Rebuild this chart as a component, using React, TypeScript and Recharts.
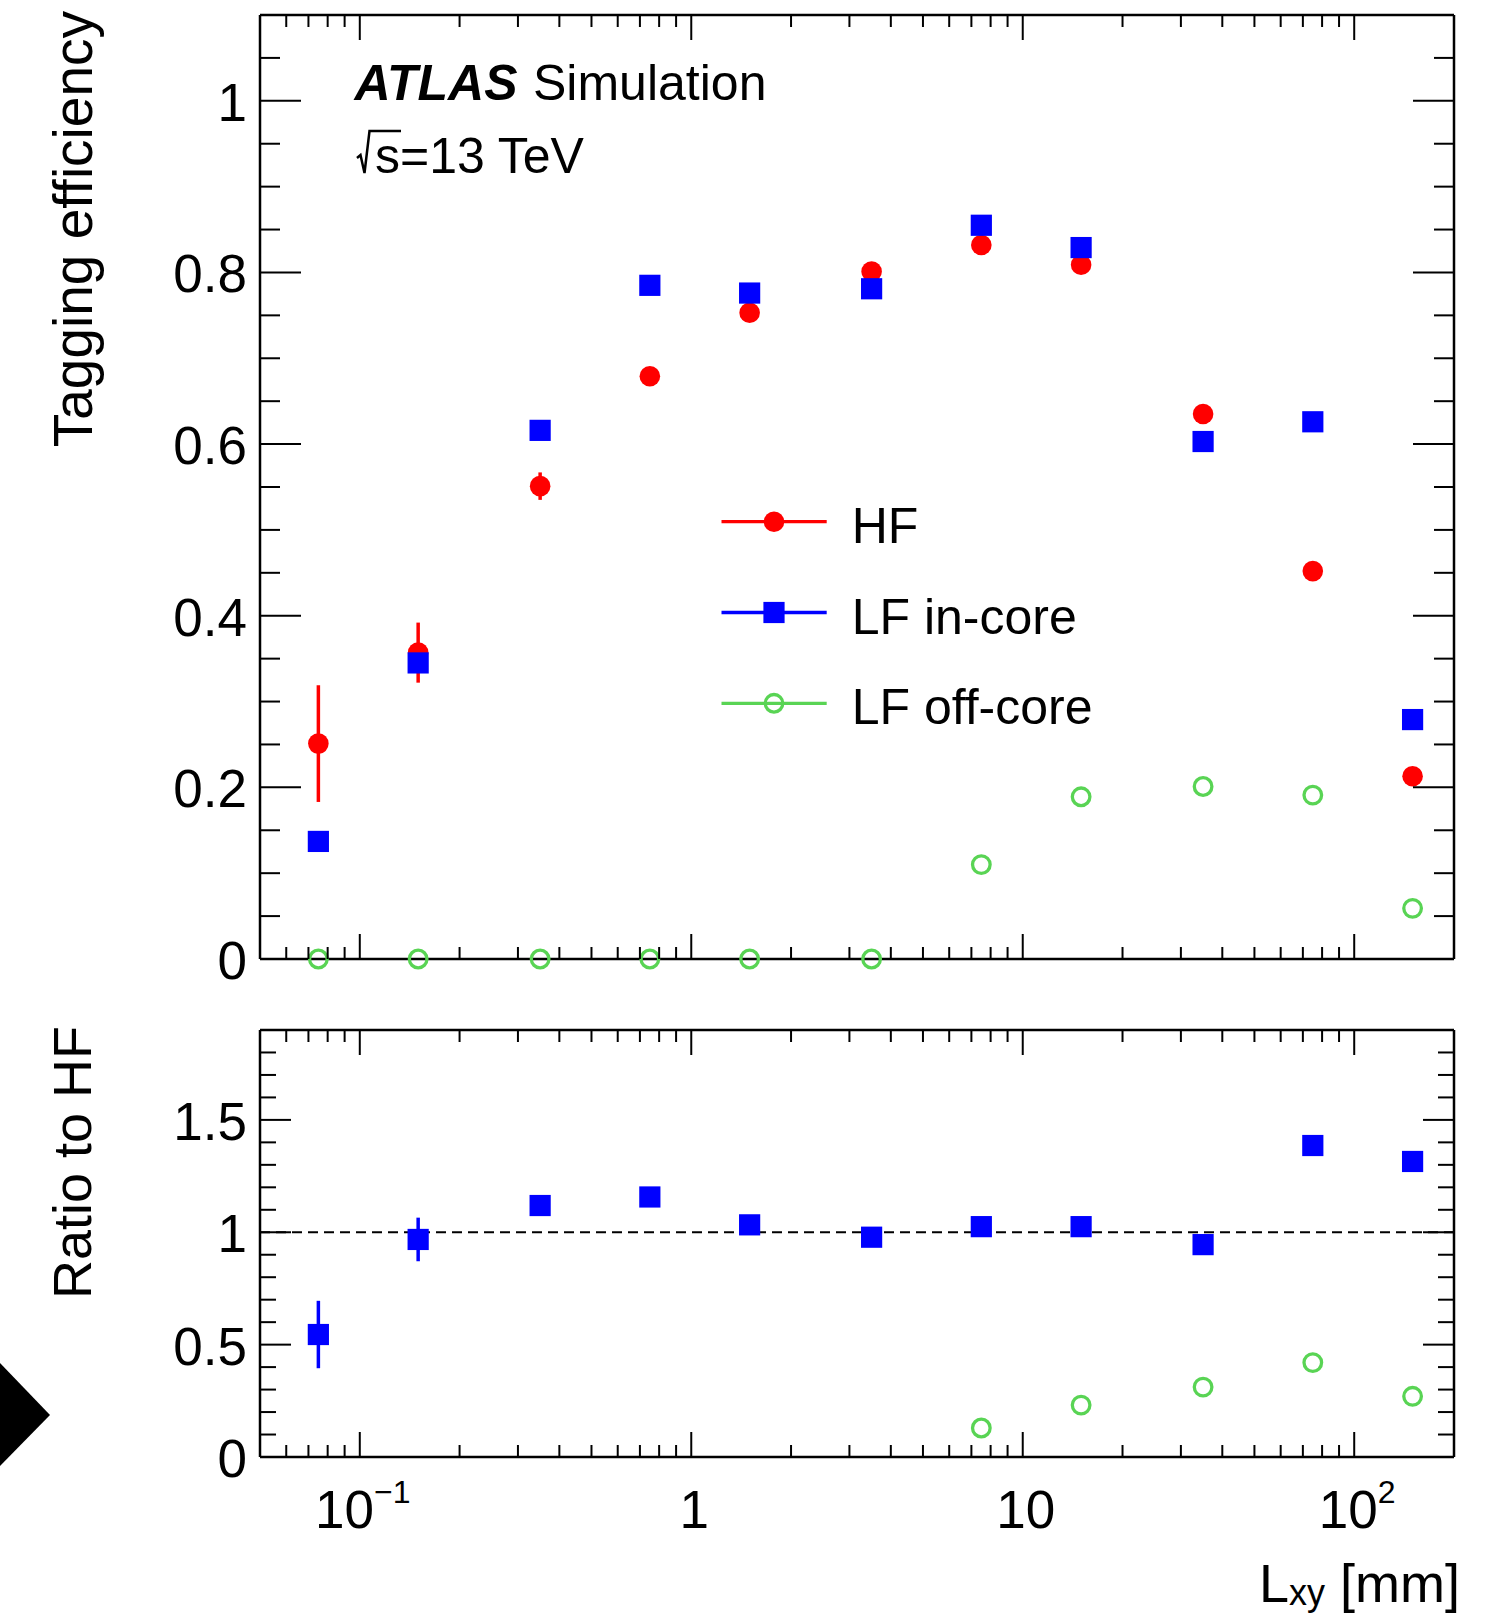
import { ScatterChart, Scatter, XAxis, YAxis, ErrorBar, ReferenceLine, Legend } from 'recharts'

const FONT = '"Liberation Sans", Arial, Helvetica, sans-serif'
const RED = '#ff0000'
const BLUE = '#0000ff'
const GREEN = '#59d454'

// bin centres in L_xy [mm]
const LXY = [0.075, 0.15, 0.35, 0.75, 1.5, 3.5, 7.5, 15, 35, 75, 150]

// top panel: tagging efficiency
const HF_EFF = [0.251, 0.357, 0.551, 0.679, 0.753, 0.801, 0.832, 0.809, 0.635, 0.452, 0.213]
const HF_ERR = [0.068, 0.035, 0.016, 0, 0, 0, 0, 0, 0, 0, 0]
const LF_IN_EFF = [0.137, 0.345, 0.616, 0.785, 0.776, 0.781, 0.855, 0.829, 0.603, 0.626, 0.279]
const LF_OFF_EFF = [0, 0, 0, 0, 0, 0, 0.11, 0.189, 0.201, 0.191, 0.059]

// bottom panel: ratio to HF
const LF_IN_RATIO = [0.545, 0.968, 1.119, 1.157, 1.033, 0.978, 1.025, 1.025, 0.945, 1.386, 1.315]
const LF_IN_RATIO_ERR = [0.15, 0.097, 0, 0, 0, 0, 0, 0, 0, 0, 0]
const LF_OFF_RATIO = [null, null, null, null, null, null, 0.129, 0.231, 0.311, 0.42, 0.27]

// axis ticks
const X_DECADES = [0.1, 1, 10, 100]
const X_DECADE_LABELS = ['10', '1', '10', '10']
const X_DECADE_EXPONENTS = ['\u22121', '', '', '2']
const X_TICKS = [0.01, 0.1, 1, 10, 100]
  .flatMap((d) => [1, 2, 3, 4, 5, 6, 7, 8, 9].map((m) => m * d))
  .filter((v) => v > 0.0501 && v < 199)

const EFF_MAJOR = [0, 0.2, 0.4, 0.6, 0.8, 1]
const EFF_LABELS = ['0', '0.2', '0.4', '0.6', '0.8', '1']
const EFF_TICKS = Array.from({ length: 22 }, (_, i) => +(i * 0.05).toFixed(2))

const RATIO_MAJOR = [0, 0.5, 1, 1.5]
const RATIO_LABELS = ['0', '0.5', '1', '1.5']
const RATIO_TICKS = Array.from({ length: 19 }, (_, i) => +(i * 0.1).toFixed(1))

const SERIES = [
  { name: 'HF', color: RED, marker: 'circle' },
  { name: 'LF in-core', color: BLUE, marker: 'square' },
  { name: 'LF off-core', color: GREEN, marker: 'open' },
]

const hfData = LXY.map((x, i) => ({ x, y: HF_EFF[i], err: HF_ERR[i] }))
const lfInData = LXY.map((x, i) => ({ x, y: LF_IN_EFF[i] }))
const lfOffData = LXY.map((x, i) => ({ x, y: LF_OFF_EFF[i] }))
const lfInRatioData = LXY.map((x, i) => ({ x, y: LF_IN_RATIO[i], err: LF_IN_RATIO_ERR[i] }))
const lfOffRatioData = LXY.map((x, i) => ({ x, y: LF_OFF_RATIO[i] })).filter((d) => d.y !== null)

const AXIS_LINE = { stroke: '#000', strokeWidth: 2.5 }

function Marker({ kind, cx, cy, color }: { kind: string; cx: number; cy: number; color: string }) {
  if (kind === 'circle') return <circle cx={cx} cy={cy} r={10.3} fill={color} />
  if (kind === 'square') return <rect x={cx - 10.6} y={cy - 10.6} width={21.2} height={21.2} fill={color} />
  return <circle cx={cx} cy={cy} r={8.8} fill="none" stroke={color} strokeWidth={3.3} />
}

function XTick(props: any) {
  const { x, y, payload, dir, len, withLabel } = props
  const v = payload.value
  const k = X_DECADES.findIndex((d) => Math.abs(v / d - 1) < 1e-6)
  const l = k >= 0 ? len[0] : len[1]
  return (
    <g>
      <line x1={x} x2={x} y1={y} y2={y + dir * l} stroke="#000" strokeWidth={2} />
      {withLabel && k >= 0 && (
        <text x={x + 3} y={y + 71} textAnchor="middle" fontFamily={FONT} fontSize={53} fill="#000">
          {X_DECADE_LABELS[k]}
          {X_DECADE_EXPONENTS[k] && (
            <tspan dy={-25} fontSize={32}>
              {X_DECADE_EXPONENTS[k]}
            </tspan>
          )}
        </text>
      )}
    </g>
  )
}

function YTick(props: any) {
  const { x, y, payload, dir, len, majors, labels } = props
  const v = payload.value
  const k = majors.findIndex((m: number) => Math.abs(v - m) < 1e-6)
  const l = k >= 0 ? len[0] : len[1]
  return (
    <g>
      <line x1={x} x2={x + dir * l} y1={y} y2={y} stroke="#000" strokeWidth={2} />
      {labels && k >= 0 && (
        <text x={x - 13} y={y + 20} textAnchor="end" fontFamily={FONT} fontSize={53} fill="#000">
          {labels[k]}
        </text>
      )}
    </g>
  )
}

function YTitle({ viewBox, text, x, size }: any) {
  const ty = (viewBox?.y ?? 0) - 4
  return (
    <text x={x} y={ty} transform={`rotate(-90 ${x} ${ty})`} textAnchor="end" fontFamily={FONT} fontSize={size} fill="#000">
      {text}
    </text>
  )
}

function XTitle({ viewBox }: any) {
  const tx = viewBox.x + viewBox.width + 6
  const ty = viewBox.y + 145
  return (
    <text x={tx} y={ty} textAnchor="end" fontFamily={FONT} fontSize={54} fill="#000">
      L
      <tspan fontSize={36} dy={3}>
        xy
      </tspan>
      <tspan dy={-3}> [mm]</tspan>
    </text>
  )
}

function LegendContent() {
  return (
    <svg width={470} height={270} style={{ display: 'block' }}>
      {SERIES.map((s, i) => {
        const cy = 51.7 + i * 90.8
        return (
          <g key={s.name}>
            <line x1={21.5} x2={126.7} y1={cy} y2={cy} stroke={s.color} strokeWidth={3.3} />
            <Marker kind={s.marker} cx={74} cy={cy} color={s.color} />
            <text x={151.7} y={cy + 21} fontFamily={FONT} fontSize={50} fill="#000">
              {s.name}
            </text>
          </g>
        )
      })}
    </svg>
  )
}

const xAxisCommon = {
  type: 'number' as const,
  dataKey: 'x',
  scale: 'log' as const,
  domain: [0.05, 200],
  ticks: X_TICKS,
  interval: 0,
  tickSize: 0,
  tickMargin: 0,
  tickLine: false,
  axisLine: AXIS_LINE,
}

function EfficiencyPanel() {
  return (
    <ScatterChart width={1507} height={1000} margin={{ top: 0, right: 0, bottom: 0, left: 0 }}>
      <XAxis {...xAxisCommon} height={41} tick={(p: any) => <XTick {...p} dir={-1} len={[25, 12]} />} />
      <XAxis {...xAxisCommon} xAxisId="top" orientation="top" allowDataOverflow height={15} tick={(p: any) => <XTick {...p} dir={1} len={[25, 12]} />} />
      <YAxis
        type="number"
        dataKey="y"
        domain={[0, 1.1]}
        ticks={EFF_TICKS}
        interval={0}
        width={260}
        tickSize={0}
        tickMargin={0}
        tickLine={false}
        axisLine={AXIS_LINE}
        tick={(p: any) => <YTick {...p} dir={1} len={[41, 20]} majors={EFF_MAJOR} labels={EFF_LABELS} />}
        label={(p: any) => <YTitle {...p} x={92} size={55} text="Tagging efficiency" />}
      />
      <YAxis
        yAxisId="right"
        orientation="right"
        type="number"
        domain={[0, 1.1]}
        allowDataOverflow
        ticks={EFF_TICKS}
        interval={0}
        width={53}
        tickSize={0}
        tickMargin={0}
        tickLine={false}
        axisLine={AXIS_LINE}
        tick={(p: any) => <YTick {...p} dir={-1} len={[41, 20]} majors={EFF_MAJOR} />}
      />
      <Scatter name="HF" data={hfData} fill={RED} isAnimationActive={false} shape={(p: any) => <Marker kind="circle" cx={p.cx} cy={p.cy} color={RED} />}>
        <ErrorBar dataKey="err" direction="y" width={0} stroke={RED} strokeWidth={3.5} isAnimationActive={false} />
      </Scatter>
      <Scatter name="LF in-core" data={lfInData} fill={BLUE} isAnimationActive={false} shape={(p: any) => <Marker kind="square" cx={p.cx} cy={p.cy} color={BLUE} />} />
      <Scatter name="LF off-core" data={lfOffData} fill={GREEN} isAnimationActive={false} shape={(p: any) => <Marker kind="open" cx={p.cx} cy={p.cy} color={GREEN} />} />
      <Legend
        layout="vertical"
        align="center"
        verticalAlign="middle"
        content={() => <LegendContent />}
        wrapperStyle={{ left: 700, top: 470, width: 470, height: 270 }}
      />
    </ScatterChart>
  )
}

function RatioPanel() {
  return (
    <ScatterChart width={1507} height={616} margin={{ top: 0, right: 0, bottom: 0, left: 0 }}>
      <XAxis
        {...xAxisCommon}
        height={159}
        tick={(p: any) => <XTick {...p} dir={-1} len={[25, 12]} withLabel />}
        label={(p: any) => <XTitle {...p} />}
      />
      <XAxis {...xAxisCommon} xAxisId="top" orientation="top" allowDataOverflow height={30} tick={(p: any) => <XTick {...p} dir={1} len={[25, 12]} />} />
      <YAxis
        type="number"
        dataKey="y"
        domain={[0, 1.9]}
        ticks={RATIO_TICKS}
        interval={0}
        width={260}
        tickSize={0}
        tickMargin={0}
        tickLine={false}
        axisLine={AXIS_LINE}
        tick={(p: any) => <YTick {...p} dir={1} len={[31, 16]} majors={RATIO_MAJOR} labels={RATIO_LABELS} />}
        label={(p: any) => <YTitle {...p} x={91} size={54} text="Ratio to HF" />}
      />
      <YAxis
        yAxisId="right"
        orientation="right"
        type="number"
        domain={[0, 1.9]}
        allowDataOverflow
        ticks={RATIO_TICKS}
        interval={0}
        width={53}
        tickSize={0}
        tickMargin={0}
        tickLine={false}
        axisLine={AXIS_LINE}
        tick={(p: any) => <YTick {...p} dir={-1} len={[31, 16]} majors={RATIO_MAJOR} />}
      />
      <Scatter name="LF in-core" data={lfInRatioData} fill={BLUE} isAnimationActive={false} shape={(p: any) => <Marker kind="square" cx={p.cx} cy={p.cy} color={BLUE} />}>
        <ErrorBar dataKey="err" direction="y" width={0} stroke={BLUE} strokeWidth={3.5} isAnimationActive={false} />
      </Scatter>
      <Scatter name="LF off-core" data={lfOffRatioData} fill={GREEN} isAnimationActive={false} shape={(p: any) => <Marker kind="open" cx={p.cx} cy={p.cy} color={GREEN} />} />
      <ReferenceLine y={1} stroke="#000" strokeWidth={1.8} strokeDasharray="10 6" />
    </ScatterChart>
  )
}

export default function App() {
  return (
    <div style={{ position: 'absolute', left: 0, top: 0, width: 1507, height: 1616, background: '#fff' }}>
      <div style={{ position: 'absolute', left: 0, top: 0 }}>
        <EfficiencyPanel />
      </div>
      <div style={{ position: 'absolute', left: 0, top: 1000 }}>
        <RatioPanel />
      </div>
      <svg width={1507} height={1616} style={{ position: 'absolute', left: 0, top: 0, pointerEvents: 'none' }}>
        <text x={354.6} y={99.5} fontFamily={FONT} fontSize={50} fontWeight="bold" fontStyle="italic" fill="#000">
          ATLAS
        </text>
        <text x={533} y={99.5} fontFamily={FONT} fontSize={50} fill="#000">
          Simulation
        </text>
        <path d="M357,158 L360.5,155 L364.5,173 L369.5,131 L401,131" fill="none" stroke="#000" strokeWidth={2.5} />
        <text x={375} y={173} fontFamily={FONT} fontSize={50} fill="#000">
          s=13 TeV
        </text>
        <polygon points="0,1363 50,1415 0,1466" fill="#000" />
      </svg>
    </div>
  )
}
